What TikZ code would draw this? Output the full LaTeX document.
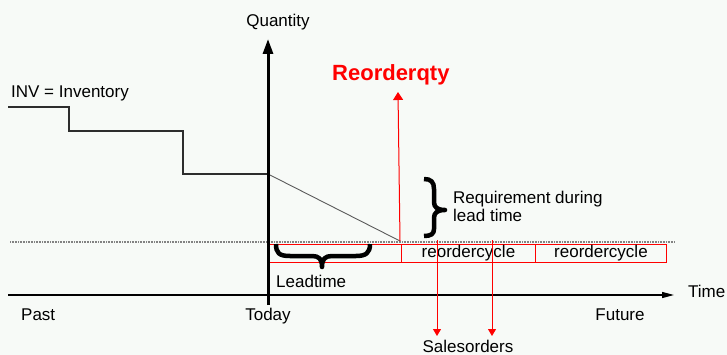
\documentclass[tikz,border=0pt]{standalone}
\usepackage{fontspec}
\setmainfont{Liberation Sans}
\usetikzlibrary{arrows.meta}
\definecolor{bg}{RGB}{247,250,247}
\definecolor{stepc}{RGB}{45,45,45}
\definecolor{diagc}{RGB}{90,90,90}
\definecolor{dotc}{RGB}{130,130,130}
\begin{document}
\begin{tikzpicture}[x=1pt,y=-1pt,
  lbl/.style={inner sep=0pt, font=\fontsize{17}{19}\selectfont},
  bigred/.style={inner sep=0pt, text=red, font=\fontsize{22}{24}\selectfont\bfseries},
  cell/.style={draw=red, line width=0.9pt, inner sep=0pt, minimum height=18pt, anchor=north west, lbl},
  axis/.style={line width=1.3pt, -{Triangle[length=12pt,width=6pt]}},
  qaxis/.style={line width=3pt, -{Triangle[length=15pt,width=10pt]}},
  stepline/.style={stepc, line width=1.2pt},
  diagline/.style={diagc, line width=0.9pt},
  dotline/.style={dotc, line width=1.2pt, dash pattern=on 1pt off 0.6pt},
  redarrow/.style={red, line width=1pt, -{Triangle[length=8pt,width=10pt]}},
  salesarrow/.style={red, line width=1pt, -{Triangle[length=7pt,width=8pt]}},
  bracestyle/.style={line width=4.5pt, line cap=butt, line join=round}
]
\fill[bg] (0,0) rectangle (727,355);
\useasboundingbox (0,0) rectangle (727,355);

% coordinates
\coordinate (xs) at (8,295);
\coordinate (xe) at (674,295);
\coordinate (qs) at (268,305);
\coordinate (qe) at (268,39);
\coordinate (inv0) at (8,107);
\coordinate (inv1) at (69,131);
\coordinate (inv2) at (183,174);
\coordinate (today) at (268,174);
\coordinate (rop) at (400,241);
\coordinate (dots) at (10,242);
\coordinate (dote) at (675,242);
\coordinate (rqtop) at (398,92);
\coordinate (s1s) at (437,240);
\coordinate (s1e) at (437,336);
\coordinate (s2s) at (492,240);
\coordinate (s2e) at (492,336);

% dotted reorder level
\draw[dotline] (dots) -- (dote);

% cells
\node[cell, minimum width=132pt] (c1) at (269,244) {};
\node[cell, minimum width=134pt] (c2) at (401,244) {reordercycle};
\node[cell, minimum width=131pt] (c3) at (535,244) {reordercycle};

% inventory line
\draw[stepline] (inv0) -| (inv1) -| (inv2) -- (today);
\draw[diagline] (today) -- (rop);

% axes
\draw[axis] (xs) -- (xe);
\draw[qaxis] (qs) -- (qe);

% red arrows
\draw[redarrow] (rop) -- (rqtop);
\draw[salesarrow] (s1s) -- (s1e);
\draw[salesarrow] (s2s) -- (s2e);

% leadtime brace
\draw[bracestyle] (276,244) .. controls (276,253) and (279,256) .. (290,256)
  -- (312,256) .. controls (319,256) and (322,259) .. (322,267)
  .. controls (322,259) and (325,256) .. (332,256)
  -- (356,256) .. controls (366,256) and (370,253) .. (370,244);

% requirement brace
\draw[bracestyle] (424,179) .. controls (431,179) and (434,182) .. (434,189)
  -- (434,202) .. controls (434,207) and (437,210) .. (445,210)
  .. controls (437,210) and (434,213) .. (434,218)
  -- (434,229) .. controls (434,234) and (431,236) .. (424,236);

% labels
\node[lbl, anchor=base] (quantity) at (278,27) {Quantity};
\node[lbl, anchor=base west] (inv) at (11,98) {INV = Inventory};
\node[bigred, anchor=base west] (reorderqty) at (332,81) {Reorderqty};
\node[lbl, anchor=base west] (req) at (453,204) {Requirement during};
\node[lbl, anchor=base west] (req2) at (453,222) {lead time};
\node[lbl, anchor=base west] (lead) at (276,287) {Leadtime};
\node[lbl, anchor=base west] (time) at (688,297) {Time};
\node[lbl, anchor=base west] (past) at (21,320) {Past};
\node[lbl, anchor=base] (todayl) at (268,320) {Today};
\node[lbl, anchor=base] (future) at (620,320) {Future};
\node[lbl, anchor=base] (sales) at (468,352) {Salesorders};
\end{tikzpicture}
\end{document}
